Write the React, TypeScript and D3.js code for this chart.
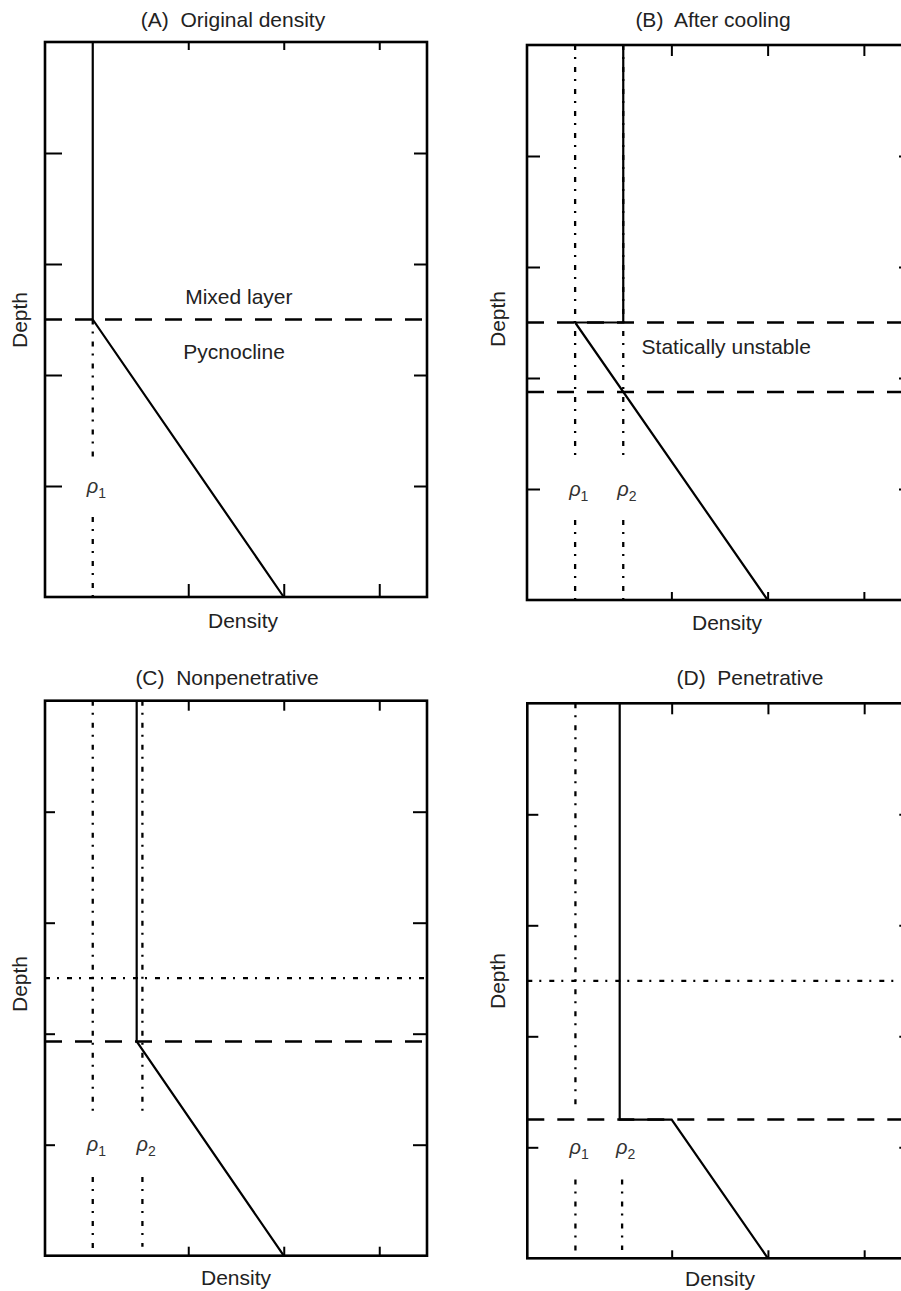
import React, { useEffect, useRef } from 'react';
import * as d3 from 'd3';

// axes: density (arbitrary units 0..8), depth (0 = surface .. 5 = bottom)
const densityDomain = [0, 8];
const depthDomain = [0, 5];
const densityTicks = [3, 5, 7];
const depthTicks = [1, 2, 3, 4];

// density profiles (solid lines)
const profileADensity = [1, 1, 5];
const profileADepth = [0, 2.5, 5];
const profileBDensity = [2, 2, 1, 5];
const profileBDepth = [0, 2.5, 2.5, 5];
const profileCDensity = [1.92, 1.92, 5];
const profileCDepth = [0, 3.07, 5];
const profileDDensity = [1.92, 1.92, 3, 5];
const profileDDepth = [0, 3.75, 3.75, 5];

// dashed horizontal lines (mixed layer base)
const dashedA = [2.5];
const dashedB = [2.5, 3.125];
const dashedC = [3.07];
const dashedD = [3.75];

// dash-dot horizontal lines (original mixed layer base)
const dashDotA: number[] = [];
const dashDotB: number[] = [];
const dashDotC = [2.5];
const dashDotD = [2.5];

// reference densities rho1, rho2 and the depth spans they are drawn over
const rhoA = [1];
const rhoB = [1, 2];
const rhoC = [1, 2.04];
const rhoD = [1, 1.97];
const rhoSpansA = [[[2.5, 3.75], [4.28, 5]]];
const rhoSpansB = [[[0, 3.76], [4.28, 5]], [[0, 3.76], [4.28, 5]]];
const rhoSpansC = [[[0, 3.75], [4.29, 5]], [[0, 3.75], [4.29, 4.92]]];
const rhoSpansD = [[[0, 3.66], [4.29, 5]], [[4.29, 4.925]]];
const rhoLabelDepth = 4.06;

const titles = ['(A)  Original density', '(B)  After cooling', '(C)  Nonpenetrative', '(D)  Penetrative'];

const panels = [
  {
    title: titles[0], left: 45, top: 42, width: 382, height: 555,
    density: profileADensity, depth: profileADepth, dashed: dashedA, dashDot: dashDotA,
    rho: rhoA, rhoSpans: rhoSpansA,
    notes: [{ text: 'Mixed layer', x: 4.06, y: 2.36 }, { text: 'Pycnocline', x: 3.96, y: 2.86 }],
    titleX: 233, titleY: 27, depthX: 27, depthY: 320, densX: 243, densY: 628,
    tick: { left: 17, right: 13, top: 8, bottom: 13 }
  },
  {
    title: titles[1], left: 527, top: 45, width: 385, height: 555,
    density: profileBDensity, depth: profileBDepth, dashed: dashedB, dashDot: dashDotB,
    rho: rhoB, rhoSpans: rhoSpansB,
    notes: [{ text: 'Statically unstable', x: 4.14, y: 2.78 }],
    titleX: 713, titleY: 27, depthX: 505, depthY: 319, densX: 727, densY: 630,
    tick: { left: 13, right: 13, top: 11, bottom: 8 }
  },
  {
    title: titles[2], left: 45, top: 700.7, width: 382, height: 555,
    density: profileCDensity, depth: profileCDepth, dashed: dashedC, dashDot: dashDotC,
    rho: rhoC, rhoSpans: rhoSpansC,
    notes: [],
    titleX: 227, titleY: 685, depthX: 27, depthY: 984, densX: 236, densY: 1285,
    tick: { left: 10, right: 14, top: 10, bottom: 9 }
  },
  {
    title: titles[3], left: 527.3, top: 703.3, width: 385, height: 555,
    density: profileDDensity, depth: profileDDepth, dashed: dashedD, dashDot: dashDotD,
    rho: rhoD, rhoSpans: rhoSpansD,
    notes: [],
    titleX: 750, titleY: 685, depthX: 505, depthY: 981, densX: 720, densY: 1286,
    tick: { left: 11, right: 13, top: 11, bottom: 8 }
  }
];

const FONT = '"Liberation Sans", Arial, Helvetica, sans-serif';
const INK = '#000';
const TEXT = '#222';
const DASH = '17,13';
const DASHDOT = '5,7,2,8';

const App = () => {
  const svgRef = useRef<SVGSVGElement>(null);

  useEffect(() => {
    document.body.style.margin = '0';
    const svg = d3.select(svgRef.current);
    svg.selectAll('*').remove();

    panels.forEach((p) => {
      const x = d3.scaleLinear().domain(densityDomain).range([p.left, p.left + p.width]);
      const y = d3.scaleLinear().domain(depthDomain).range([p.top, p.top + p.height]);
      const g = svg.append('g');

      // ticks (inward) from d3 axes, no labels
      const addAxis = (axis: any, tx: number, ty: number) => {
        const a = g.append('g')
          .attr('transform', `translate(${tx},${ty})`)
          .call(axis);
        a.select('.domain').remove();
        a.selectAll('.tick line').attr('stroke', INK).attr('stroke-width', 2);
        a.selectAll('.tick text').remove();
      };
      addAxis(d3.axisTop(x).tickValues(densityTicks).tickSize(-p.tick.top).tickFormat(() => ''), 0, p.top);
      addAxis(d3.axisBottom(x).tickValues(densityTicks).tickSize(-p.tick.bottom).tickFormat(() => ''), 0, p.top + p.height);
      addAxis(d3.axisLeft(y).tickValues(depthTicks).tickSize(-p.tick.left).tickFormat(() => ''), p.left, 0);
      addAxis(d3.axisRight(y).tickValues(depthTicks).tickSize(-p.tick.right).tickFormat(() => ''), p.left + p.width, 0);

      // rho reference lines (dash-dot)
      p.rho.forEach((r, i) => {
        p.rhoSpans[i].forEach((s) => {
          g.append('line')
            .attr('x1', x(r)).attr('x2', x(r))
            .attr('y1', y(s[0])).attr('y2', y(s[1]))
            .attr('stroke', INK).attr('stroke-width', 2.3)
            .attr('stroke-dasharray', DASHDOT);
        });
        const lbl = g.append('text')
          .attr('x', x(r) - 6)
          .attr('y', y(rhoLabelDepth))
          .attr('font-family', FONT)
          .attr('fill', '#333');
        lbl.append('tspan').attr('font-size', 20).attr('font-style', 'italic').text('ρ');
        lbl.append('tspan').attr('font-size', 14).attr('dy', 5).text(String(i + 1));
      });

      // horizontal dash-dot lines
      p.dashDot.forEach((d) => {
        g.append('line')
          .attr('x1', x(densityDomain[0])).attr('x2', x(densityDomain[1]))
          .attr('y1', y(d)).attr('y2', y(d))
          .attr('stroke', INK).attr('stroke-width', 2.3)
          .attr('stroke-dasharray', DASHDOT);
      });

      // dashed horizontal lines
      p.dashed.forEach((d) => {
        g.append('line')
          .attr('x1', x(densityDomain[0])).attr('x2', x(densityDomain[1]))
          .attr('y1', y(d)).attr('y2', y(d))
          .attr('stroke', INK).attr('stroke-width', 2.5)
          .attr('stroke-dasharray', DASH);
      });

      // density profile
      const line = d3.line<number>()
        .x((d) => x(d))
        .y((_, i) => y(p.depth[i]));
      g.append('path')
        .attr('d', line(p.density))
        .attr('fill', 'none')
        .attr('stroke', INK)
        .attr('stroke-width', 2.2)
        .attr('stroke-linejoin', 'miter');

      // frame
      g.append('rect')
        .attr('x', p.left).attr('y', p.top)
        .attr('width', p.width).attr('height', p.height)
        .attr('fill', 'none')
        .attr('stroke', INK)
        .attr('stroke-width', 2.6);

      // annotations
      p.notes.forEach((n) => {
        g.append('text')
          .attr('x', x(n.x)).attr('y', y(n.y))
          .attr('text-anchor', 'middle')
          .attr('font-family', FONT).attr('font-size', 21)
          .attr('fill', TEXT)
          .text(n.text);
      });

      // title
      g.append('text')
        .attr('x', p.titleX).attr('y', p.titleY)
        .attr('text-anchor', 'middle')
        .attr('font-family', FONT).attr('font-size', 21)
        .attr('fill', TEXT)
        .style('white-space', 'pre')
        .text(p.title);

      // axis labels
      g.append('text')
        .attr('x', p.densX).attr('y', p.densY)
        .attr('text-anchor', 'middle')
        .attr('font-family', FONT).attr('font-size', 21)
        .attr('fill', TEXT)
        .text('Density');
      g.append('text')
        .attr('transform', `translate(${p.depthX},${p.depthY}) rotate(-90)`)
        .attr('text-anchor', 'middle')
        .attr('font-family', FONT).attr('font-size', 21)
        .attr('fill', TEXT)
        .text('Depth');
    });
  }, []);

  return (
    <svg ref={svgRef} width={901} height={1291} style={{ display: 'block', background: '#fff' }} />
  );
};

export default App;
